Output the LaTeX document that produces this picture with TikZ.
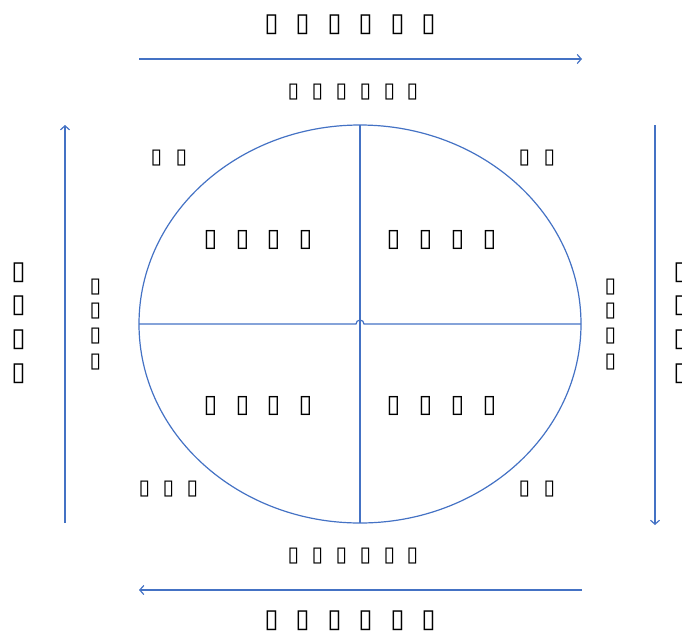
\documentclass[tikz,border=0pt]{standalone}
\usepackage{fontspec}
\newfontfamily\djv{DejaVu Sans}
\usetikzlibrary{arrows.meta}
\definecolor{lblue}{HTML}{4472C4}
\newcommand\tofuch{\symbol{"25AF}}
\begin{document}
\begin{tikzpicture}[x=1pt,y=-1pt,
  ln/.style={draw=lblue, line width=1.2pt},
  arr/.style={ln, -{Straight Barb[length=4pt,width=9pt]}},
  tfbase/.style={inner sep=0pt, xshift=1.5pt, yshift=-2pt},
  tfL/.style={tfbase, font=\djv\fontsize{26}{26}\selectfont},
  tfM/.style={tfbase, font=\djv\fontsize{25}{25}\selectfont},
  tfS/.style={tfbase, font=\djv\fontsize{21}{21}\selectfont},
]
\useasboundingbox (0,0) rectangle (682,633);
% ellipse and cross
\draw[ln] (360,324) ellipse [x radius=221, y radius=199];
\coordinate (vt) at (360,125);
\coordinate (vb) at (360,523);
\coordinate (hl) at (139,324);
\coordinate (hr) at (581,324);
\draw[ln] (vt) -- (vb);
\draw[ln] (hl) -- (356,324) arc[start angle=180, end angle=360, radius=4] -- (hr);
% arrows
\coordinate (ta) at (139,59); \coordinate (tb) at (582,59);
\coordinate (ba) at (582,590); \coordinate (bb) at (139,590);
\coordinate (la) at (65,523); \coordinate (lb) at (65,125);
\coordinate (ra) at (655,125); \coordinate (rb) at (655,525);
\draw[arr] (ta) -- (tb);
\draw[arr] (ba) -- (bb);
\draw[arr] (la) -- (lb);
\draw[arr] (ra) -- (rb);
% texts
\foreach \x [count=\i] in {270,301,333,364,396,427} {
  \node[tfL] (top\i) at (\x,23) {\tofuch};
  \node[tfL] (bot\i) at (\x,619) {\tofuch};
}
\foreach \x [count=\i] in {292,316,340,364,388,411} {
  \node[tfS] (tops\i) at (\x,90) {\tofuch};
  \node[tfS] (bots\i) at (\x,554) {\tofuch};
}
\foreach \y [count=\i] in {271,304,338,372} {
  \node[tfL] (lft\i) at (17,\y) {\tofuch};
  \node[tfL] (rgt\i) at (679,\y) {\tofuch};
}
\foreach \y [count=\i] in {285,309,334,360} {
  \node[tfS] (lfs\i) at (94,\y) {\tofuch};
  \node[tfS] (rgs\i) at (609,\y) {\tofuch};
}
\foreach \x [count=\i] in {209,241,272,304} {
  \node[tfM] (qa\i) at (\x,238) {\tofuch};
  \node[tfM] (qc\i) at (\x,404) {\tofuch};
}
\foreach \x [count=\i] in {392,424,456,488} {
  \node[tfM] (qb\i) at (\x,238) {\tofuch};
  \node[tfM] (qd\i) at (\x,404) {\tofuch};
}
\foreach \x [count=\i] in {155,180} \node[tfS] (tl\i) at (\x,156) {\tofuch};
\foreach \x [count=\i] in {523,548} \node[tfS] (tr\i) at (\x,156) {\tofuch};
\foreach \x [count=\i] in {143,167,191} \node[tfS] (bl\i) at (\x,487) {\tofuch};
\foreach \x [count=\i] in {523,548} \node[tfS] (br\i) at (\x,487) {\tofuch};
\end{tikzpicture}
\end{document}
